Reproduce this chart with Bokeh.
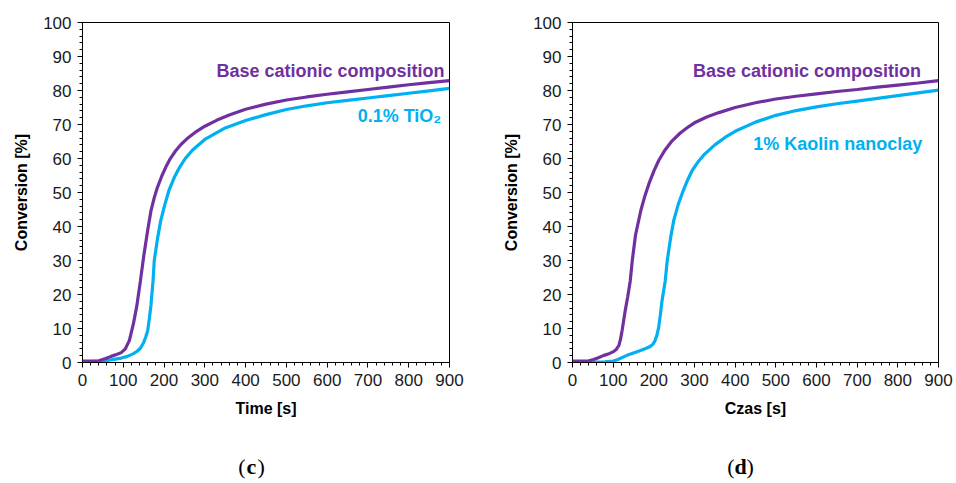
from bokeh.plotting import figure
from bokeh.layouts import row, column
from bokeh.models import Range1d, SingleIntervalTicker, Label
from bokeh.core.properties import value
from bokeh.embed import file_html
from bokeh.resources import INLINE

# ---- data: photopolymerization conversion vs. time ----
# panel (c): base composition vs 0.1% TiO2
c_base_t = [0, 20, 40, 55, 70, 85, 95, 105, 115, 125, 133, 142, 151, 160, 168, 176, 184,
            195, 204, 215, 228, 242, 260, 280, 300, 330, 360, 400, 450, 500, 550, 600, 650,
            700, 750, 800, 850, 900]
c_base_y = [0.4, 0.4, 0.5, 1.1, 1.8, 2.4, 2.9, 4.0, 6.5, 11.5, 16.5, 24, 32, 39, 44.7, 48.5,
            51.6, 55, 57.4, 59.9, 62.2, 64.2, 66.2, 68.0, 69.5, 71.3, 72.8, 74.5, 76.0, 77.2,
            78.1, 78.9, 79.6, 80.3, 81.0, 81.7, 82.3, 82.9]

c_tio2_t = [0, 20, 40, 60, 77, 95, 110, 125, 134, 142, 150, 155, 160, 164, 168, 173, 176,
            184, 192, 202, 212, 225, 237, 252, 270, 300, 350, 400, 450, 500, 550, 600, 650,
            700, 750, 800, 850, 900]
c_tio2_y = [0.3, 0.3, 0.4, 0.6, 0.9, 1.3, 1.8, 2.6, 3.3, 4.2, 5.9, 7.5, 9.4, 13, 17, 24, 30,
            36.5, 41.8, 46.5, 50.6, 54.4, 57.2, 60.0, 62.5, 65.6, 69.0, 71.2, 72.9, 74.4, 75.5,
            76.4, 77.1, 77.8, 78.5, 79.2, 79.9, 80.6]

# panel (d): base composition vs 1% kaolin nanoclay
d_base_t = [0, 20, 40, 52, 65, 77, 90, 101, 108, 114, 118, 122, 126, 130, 136, 142, 147, 155,
            168, 178, 188, 200, 212, 228, 245, 265, 286, 300, 330, 360, 400, 450, 500, 550,
            600, 650, 700, 750, 800, 850, 900]
d_base_y = [0.4, 0.4, 0.5, 0.9, 1.5, 2.1, 2.6, 3.2, 3.9, 5, 6.8, 9.4, 12.5, 15.5, 19.5, 24,
            30, 37.5, 44.7, 49, 52.6, 56.3, 59.4, 62.6, 65.2, 67.5, 69.4, 70.5, 72.2, 73.5,
            75.0, 76.4, 77.5, 78.3, 79.0, 79.7, 80.3, 81.0, 81.6, 82.2, 82.9]

d_kaol_t = [0, 40, 80, 100, 110, 134, 150, 167, 180, 191, 198, 203, 208, 212, 216, 220, 224,
            228, 233, 241, 249, 260, 270, 282, 294, 310, 325, 350, 375, 400, 450, 500, 550,
            600, 650, 700, 750, 800, 850, 900]
d_kaol_y = [0.1, 0.1, 0.2, 0.4, 0.8, 2.1, 2.8, 3.5, 4.1, 4.7, 5.4, 6.5, 8.2, 10.4, 14, 18, 21,
            24, 30, 36.5, 41.8, 46.5, 49.8, 53.4, 56.4, 59.2, 61.3, 64.0, 66.2, 68.0, 70.7,
            72.7, 74.1, 75.2, 76.1, 76.9, 77.7, 78.5, 79.3, 80.1]

PURPLE = "#7030A0"
BLUE = "#00B0F0"
SANS = "Liberation Sans"
SERIF = "Liberation Serif"


def panel(base_t, base_y, add_t, add_y, add_name, add_x, add_y_lbl, base_x,
          xlabel, border_left, border_right, frame_w):
    p = figure(frame_width=frame_w, frame_height=340,
               min_border_left=border_left, min_border_right=border_right,
               min_border_top=22, min_border_bottom=70,
               x_range=Range1d(0, 900), y_range=Range1d(0, 100),
               output_backend="svg", toolbar_location=None,
               background_fill_color="white", border_fill_color="white")
    p.outline_line_color = "black"
    p.outline_line_width = 1
    p.grid.visible = False

    p.xaxis.ticker = SingleIntervalTicker(interval=100, num_minor_ticks=5)
    p.yaxis.ticker = SingleIntervalTicker(interval=10, num_minor_ticks=5)
    for ax in (p.xaxis[0], p.yaxis[0]):
        ax.axis_line_color = "black"
        ax.major_tick_line_color = "black"
        ax.minor_tick_line_color = "black"
        ax.major_tick_in = 0
        ax.major_tick_out = 5
        ax.minor_tick_in = 0
        ax.minor_tick_out = 3
        ax.major_label_text_font = SANS
        ax.major_label_text_font_size = "17px"
        ax.major_label_text_color = "#1a1a1a"
        ax.axis_label_text_font = SANS
        ax.axis_label_text_font_size = "16px"
        ax.axis_label_text_font_style = "bold"
        ax.axis_label_text_color = "black"
    p.xaxis.axis_label = xlabel
    p.yaxis.axis_label = "Conversion [%]"
    p.xaxis.major_label_standoff = 6
    p.yaxis.major_label_standoff = 6
    p.xaxis.axis_label_standoff = 11
    p.yaxis.axis_label_standoff = 10

    p.line(add_t, add_y, line_color=BLUE, line_width=3.2)
    p.line(base_t, base_y, line_color=PURPLE, line_width=3.2)

    p.add_layout(Label(x=base_x, y=85.7, text="Base cationic composition",
                       text_align="right", text_baseline="alphabetic",
                       text_font=SANS, text_font_size="18px",
                       text_font_style="bold", text_color=PURPLE))
    p.add_layout(Label(x=add_x, y=add_y_lbl, text=add_name,
                       text_align="right", text_baseline="alphabetic",
                       text_font=SANS, text_font_size="18px",
                       text_font_style="bold", text_color=BLUE))
    return p


def caption(letter, cx):
    # a strip under each panel holding its "(letter)" caption, letter in bold
    c = figure(width=478, height=51, min_border=0,
               x_range=Range1d(0, 478), y_range=Range1d(0, 51),
               x_axis_type=None, y_axis_type=None,
               output_backend="svg", toolbar_location=None,
               background_fill_color="white", border_fill_color="white")
    c.outline_line_color = None
    c.grid.visible = False
    c.text(x=[cx], y=[17], text=[letter], text_align="center",
           text_baseline="middle", text_font=value(SERIF),
           text_font_size="22px", text_font_style="bold", text_color="black")
    c.text(x=[cx], y=[17], text=["("], x_offset=-6, text_align="right",
           text_baseline="middle", text_font=value(SERIF),
           text_font_size="22px", text_color="black")
    c.text(x=[cx], y=[17], text=[")"], x_offset=6, text_align="left",
           text_baseline="middle", text_font=value(SERIF),
           text_font_size="22px", text_color="black")
    return c


p_c = panel(c_base_t, c_base_y, c_tio2_t, c_tio2_y, "0.1% TiO\u2082", 880, 72.4, 888,
            "Time [s]", 82, 29, 367)
p_d = panel(d_base_t, d_base_y, d_kaol_t, d_kaol_y, "1% Kaolin nanoclay", 860, 64.3, 857,
            "Czas [s]", 94, 18, 366)

layout = column(row(p_c, p_d), row(caption("c", 251), caption("d", 262)))
open("out.html", "w").write(file_html(layout, INLINE))
